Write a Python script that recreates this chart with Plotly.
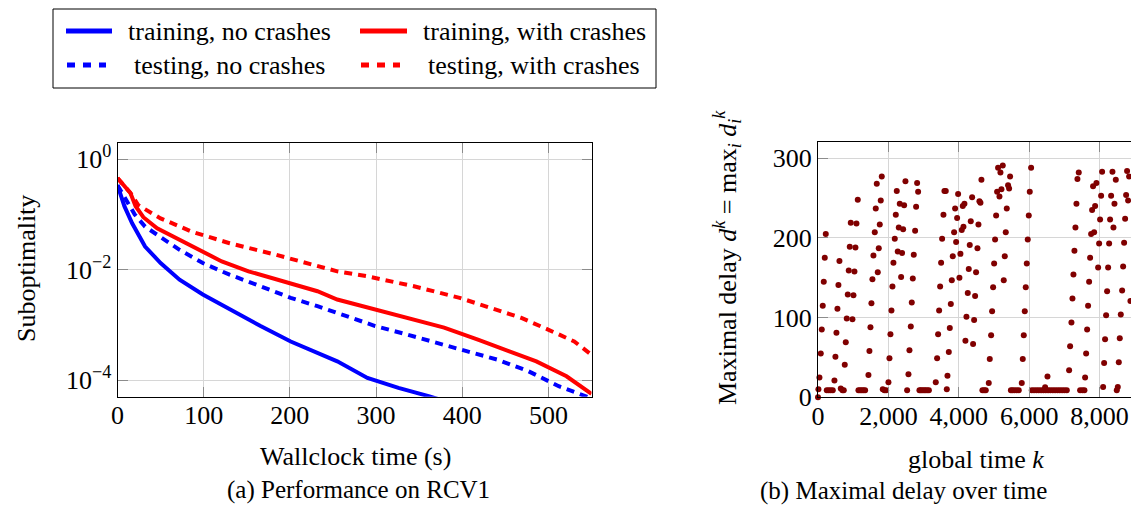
import plotly.graph_objects as go

W, H = 1131, 505
FONT = "Liberation Serif"

# ---------------- Left panel data (time in s, log10 suboptimality) ----------------
t_train_no = [0, 8, 17, 32, 50, 72, 99, 130, 166, 201, 232, 255, 290, 326, 361, 380]
l_train_no = [-0.47, -0.85, -1.16, -1.58, -1.88, -2.18, -2.45, -2.72, -3.02, -3.30, -3.51, -3.66, -3.96, -4.14, -4.29, -4.38]

t_test_no = [0, 10, 20, 32, 50, 72, 99, 130, 166, 201, 232, 264, 299, 335, 370, 406, 441, 477, 512, 544, 550]
l_test_no = [-0.47, -0.75, -1.0, -1.22, -1.40, -1.64, -1.88, -2.09, -2.30, -2.51, -2.66, -2.84, -3.02, -3.17, -3.33, -3.48, -3.63, -3.84, -4.11, -4.29, -4.33]

t_train_with = [0, 8, 15, 21, 30, 46, 72, 104, 121, 152, 197, 232, 255, 299, 335, 379, 419, 454, 486, 521, 550]
l_train_with = [-0.34, -0.48, -0.61, -0.85, -1.05, -1.25, -1.46, -1.70, -1.85, -2.03, -2.24, -2.39, -2.54, -2.72, -2.87, -3.05, -3.27, -3.48, -3.66, -3.93, -4.25]

t_test_with = [0, 8, 15, 24, 50, 86, 130, 184, 237, 255, 290, 344, 397, 432, 468, 499, 530, 550]
l_test_with = [-0.34, -0.48, -0.61, -0.83, -1.07, -1.31, -1.52, -1.73, -1.94, -2.03, -2.12, -2.30, -2.51, -2.69, -2.87, -3.08, -3.30, -3.54]

x_ticks_left = [0, 100, 200, 300, 400, 500]
y_ticks_left = [1, 0.01, 0.0001]
y_ticktext_left = ["10<sup>0</sup>", "10<sup>\u22122</sup>", "10<sup>\u22124</sup>"]

# ---------------- Right panel data (global time k, maximal delay) ----------------
k_vals = [
    0, 12, 41, 79, 107, 135, 164, 192, 221,
    249, 306, 363, 420,
    467, 495, 524, 552, 580, 609,
    647, 694, 732,
    760, 789, 817, 846, 874, 902, 931,
    978, 1007, 1035, 1064, 1092, 1130,
    1149, 1196, 1244, 1291, 1338,
    1433, 1461, 1490, 1518, 1546, 1575, 1613, 1641, 1670,
    1698, 1726, 1755, 1783, 1812,
    1840, 1887, 1935,
    2001, 2030, 2058, 2087, 2115, 2143, 2181, 2210, 2238,
    2266, 2295, 2323,
    2361, 2389, 2418, 2446, 2484,
    2532,
    2570, 2598, 2636, 2664, 2693, 2721, 2759, 2787, 2816, 2844,
    2882, 2920, 2960, 3010, 3050, 3100, 3150,
    3346, 3384, 3412, 3441, 3469, 3497, 3526, 3564, 3592, 3630,
    3659,
    3678, 3716, 3744, 3773, 3801, 3829, 3867, 3895,
    3924, 3952, 3980,
    4018, 4046, 4084, 4132, 4113, 4160,
    4188, 4217, 4255, 4283, 4311, 4340, 4378,
    4406, 4435, 4463, 4491, 4530, 4558, 4586, 4615, 4643,
    4671, 4719, 4766,
    4851, 4880, 4918, 4946, 4975, 5003, 5031, 5060, 5088, 5116,
    5155, 5183, 5211, 5249, 5277, 5306, 5334, 5363, 5400, 5429, 5457,
    5480, 5523, 5580, 5646, 5703,
    5789, 5817, 5846, 5874, 5902, 5931, 5959, 5988, 6016, 6054,
    6073, 6139, 6206, 6272, 6338, 6405, 6471, 6537, 6604, 6670, 6736, 6803, 6869, 6935, 7001, 7068,
    6452, 6519,
    7134, 7162, 7200, 7229, 7257, 7285, 7314, 7342, 7370, 7408,
    7446, 7512, 7569,
    7588, 7617, 7645, 7673, 7702, 7730, 7759, 7787, 7815,
    7844, 7872, 7910,
    7958, 7986, 8014, 8043, 8071,
    8100, 8128, 8156, 8185, 8213, 8242, 8270, 8298, 8327, 8365, 8393, 8422, 8460,
    8488, 8517, 8545, 8573, 8602, 8640, 8668, 8696, 8725, 8753, 8781, 8810, 8838,
    8876, 8895, 8895,
]
d_vals = [
    0, 10, 25, 55, 85, 115, 145, 175, 205,
    9, 9, 9, 9,
    21, 51, 81, 111, 141, 171,
    11, 9, 9,
    41, 69, 99, 129, 159, 189, 219,
    98, 128, 158, 188, 218, 248,
    9, 9, 9, 9, 9,
    28, 58, 88, 118, 148, 178, 207, 237, 268,
    157, 187, 217, 247, 277,
    10, 9, 9,
    19, 49, 79, 109, 139, 169, 199, 229, 259,
    183, 213, 243,
    151, 181, 211, 241, 271,
    9,
    29, 59, 89, 119, 149, 179, 209, 239, 269, 258,
    9, 9, 9, 9, 9, 9, 9,
    19, 49, 79, 109, 139, 169, 199, 229, 259, 259,
    10,
    27, 57, 87, 117, 147, 177, 207, 237,
    195, 225, 255,
    150, 180, 210, 214, 240, 243,
    71, 101, 131, 161, 191, 221, 251,
    67, 97, 127, 157, 187, 217, 246, 244, 273,
    9, 9, 9,
    18, 48, 78, 108, 138, 168, 198, 228, 258, 288,
    252, 282, 261, 291, 147, 177, 207, 237, 266, 262, 277,
    9, 9, 9, 9, 9,
    18, 48, 78, 108, 138, 168, 198, 228, 258, 288,
    9, 9, 9, 9, 9, 9, 9, 9, 9, 9, 9, 9, 9, 9, 9, 9,
    12.5, 26,
    34, 64, 94, 124, 154, 184, 213, 243, 274, 282,
    9, 9, 9,
    25, 55, 85, 115, 145, 175, 205, 235, 265,
    207, 240, 269,
    163, 193, 223, 253, 283,
    13, 43, 73, 103, 133, 163, 193, 223, 253, 283, 213, 243, 273,
    9, 13, 44, 74, 104, 134, 164, 194, 224, 254, 284, 247, 277,
    121, 151, 180,
]
x_ticks_right = [0, 2000, 4000, 6000, 8000]
y_ticks_right = [0, 100, 200, 300]


def px(x):
    return x / W


def py(y):
    return 1 - y / H


fig = go.Figure()

BLUE = "#0000ff"
RED = "#ff0000"
DASH = "8px,6px"

fig.add_trace(go.Scatter(x=t_train_no, y=[10 ** v for v in l_train_no], mode="lines",
                         line=dict(color=BLUE, width=4), name="training, no crashes",
                         xaxis="x", yaxis="y", showlegend=False))
fig.add_trace(go.Scatter(x=t_train_with, y=[10 ** v for v in l_train_with], mode="lines",
                         line=dict(color=RED, width=4), name="training, with crashes",
                         xaxis="x", yaxis="y", showlegend=False))
fig.add_trace(go.Scatter(x=t_test_no, y=[10 ** v for v in l_test_no], mode="lines",
                         line=dict(color=BLUE, width=4, dash=DASH), name="testing, no crashes",
                         xaxis="x", yaxis="y", showlegend=False))
fig.add_trace(go.Scatter(x=t_test_with, y=[10 ** v for v in l_test_with], mode="lines",
                         line=dict(color=RED, width=4, dash=DASH), name="testing, with crashes",
                         xaxis="x", yaxis="y", showlegend=False))

fig.add_trace(go.Scatter(x=k_vals, y=d_vals, mode="markers",
                         marker=dict(color="#800000", size=6, line=dict(width=0)),
                         xaxis="x2", yaxis="y2", showlegend=False, cliponaxis=False))

GRID = "#d6d6d6"
TICKC = "#8c8c8c"
tickfont = dict(family=FONT, size=26, color="black")
common = dict(showgrid=True, gridcolor=GRID, gridwidth=1, ticks="inside", ticklen=10,
              tickcolor=TICKC, tickwidth=1, showline=True, linecolor="black", linewidth=1,
              zeroline=False, tickfont=tickfont, automargin=False)

fig.update_layout(
    width=W, height=H,
    margin=dict(l=0, r=0, t=0, b=0),
    paper_bgcolor="white", plot_bgcolor="white",
    xaxis=dict(domain=[px(117.5), px(591.5)], range=[0, 550], tickvals=x_ticks_left,
               mirror="allticks", anchor="y", ticklabelstandoff=-5, **common),
    yaxis=dict(domain=[py(396.7), py(142.7)], type="log", range=[-4.30, 0.30],
               tickvals=y_ticks_left, ticktext=y_ticktext_left,
               mirror="allticks", anchor="x", **common),
    xaxis2=dict(domain=[px(818), 1.0], range=[0, 8892], tickvals=x_ticks_right,
                tickformat=",", mirror="allticks", anchor="y2", ticklabelstandoff=-5, **common),
    yaxis2=dict(domain=[py(397.3), py(142.3)], range=[0, 320], tickvals=y_ticks_right,
                mirror=False, anchor="x2", **common),
)

shapes = []
# legend box
shapes.append(dict(type="rect", xref="paper", yref="paper", x0=px(53), x1=px(656), y0=py(88), y1=py(9),
                   line=dict(color="black", width=1), fillcolor="white"))
shapes.append(dict(type="line", xref="paper", yref="paper", x0=px(66), x1=px(112), y0=py(31), y1=py(31),
                   line=dict(color=BLUE, width=5)))
shapes.append(dict(type="line", xref="paper", yref="paper", x0=px(360), x1=px(407), y0=py(31), y1=py(31),
                   line=dict(color=RED, width=5)))
shapes.append(dict(type="line", xref="paper", yref="paper", x0=px(67), x1=px(106), y0=py(65), y1=py(65),
                   line=dict(color=BLUE, width=5, dash="8px,8px")))
shapes.append(dict(type="line", xref="paper", yref="paper", x0=px(361), x1=px(400), y0=py(65), y1=py(65),
                   line=dict(color=RED, width=5, dash="8px,8px")))
fig.update_layout(shapes=shapes)

def ann(text, x, y, size=26, angle=0):
    return dict(text=text, x=px(x), y=py(y), xref="paper", yref="paper", showarrow=False,
                xanchor="center", yanchor="middle", textangle=angle,
                font=dict(family=FONT, size=size, color="black"))

annotations = [
    ann("training, no crashes", 229, 31),
    ann("testing, no crashes", 229, 65),
    ann("training, with crashes", 534, 31),
    ann("testing, with crashes", 534, 65),
    ann("Suboptimality", 26, 269, angle=-90),
    ann("Wallclock time (s)", 355, 456),
    ann("(a) Performance on RCV1", 358, 490, size=25),
    ann("Maximal delay <i>d</i><sup><i>k</i></sup> = max<sub><i>i</i></sub> <i>d</i><sub><i>i</i></sub><sup><i>k</i></sup>",
        727, 258, angle=-90),
    ann("global time <i>k</i>", 976, 459),
    ann("(b) Maximal delay over time", 903, 491, size=25),
]
fig.update_layout(annotations=annotations)

fig.write_html("out.html")
